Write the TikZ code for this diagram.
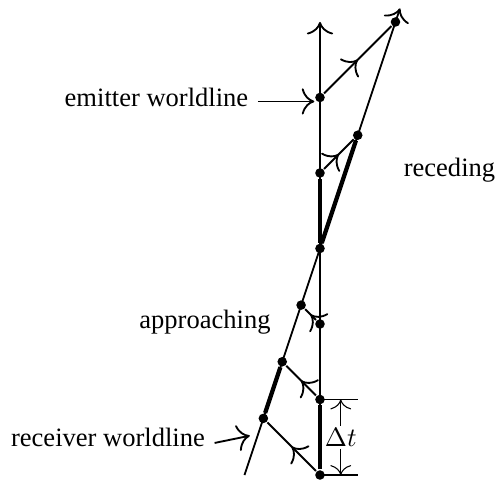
\documentclass[tikz,border=0pt]{standalone}
\usepackage[no-math]{fontspec}
\setmainfont{Liberation Serif}
\usetikzlibrary{arrows,arrows.meta,decorations.markings}
\tikzset{every picture/.style={
  >={To[scale=1.5]}             % Plain TeX style arrows, a bit larger.
  }
}

\begin{document}
\begin{tikzpicture}[
    line width=0.7pt,
    event/.style={              % Dots marking the events.
      circle,
      fill,
      inner sep=0pt,
      minimum size=3.6pt
    },
    ray/.style={                % Light signals, arrow half way along.
      postaction={decorate},
      decoration={markings,mark=at position 0.5 with {\arrow{>}}}
    },
    span/.style={               % Intervals between two signals.
      line width=1.6pt
    },
    lbl/.style={                % Styling of label text.
      text height=1.5ex
    }]

    \useasboundingbox (-4.238,-0.066) rectangle (2.331,6.291);

    % Events on the emitter worldline.
    \node[event] (e0) at (0,0) {};
    \node[event] (e1) at (0,1) {};
    \node[event] (e2) at (0,2) {};
    \node[event] (e3) at (0,3) {};
    \node[event] (e4) at (0,4) {};
    \node[event] (e5) at (0,5) {};

    % Events on the receiver worldline.
    \node[event] (r0) at (-0.75,0.75) {};
    \node[event] (r1) at (-0.5,1.5) {};
    \node[event] (r2) at (-0.25,2.25) {};
    \node[event] (r4) at (0.5,4.5) {};
    \node[event] (r5) at (1,6) {};

    % The two worldlines.
    \coordinate (etop) at (0,6);
    \coordinate (rbot) at (-1,0);
    \coordinate (rtop) at (1.06,6.18);
    \draw[->] (e0) -- (etop);
    \draw[->] (rbot) -- (rtop);

    % Intervals between successive signals.
    \draw[span] (e0) -- (e1);
    \draw[span] (r0) -- (r1);
    \draw[span] (e3) -- (e4);
    \draw[span] (e3) -- (r4);

    % Light signals from emitter to receiver.
    \draw[ray] (e0) -- (r0);
    \draw[ray] (e1) -- (r1);
    \draw[ray] (e2) -- (r2);
    \draw[ray] (e4) -- (r4);
    \draw[ray] (e5) -- (r5);

    % Label the worldlines.
    \node[lbl] (lemit) at (-2.166,5) {emitter worldline};
    \draw[->] ([yshift=-1.5pt]lemit.east) -- ([yshift=-1.5pt]e5.west);
    \node[lbl] (lrecv) at (-2.808,0.495) {receiver worldline};
    \coordinate (rtip) at (-0.93,0.52);
    \draw[->] ([yshift=-2pt]lrecv.east) -- (rtip);

    \node[lbl] (lappr) at (-1.523,2.03) {approaching};
    \node[lbl] (lrece) at (1.715,4.03) {receding};

    % Mark the interval between emissions.
    \coordinate (t0) at (0.5,0);
    \coordinate (t1) at (0.5,1);
    \draw[thin] (e0.center) -- (t0);
    \draw[thin] (e1.center) -- (t1);
    \coordinate (d0) at (0.275,0);
    \coordinate (d1) at (0.275,1);
    \draw[thin,<->] (d0) -- node[fill=white,inner sep=1pt] (dt) {$\Delta t$} (d1);
\end{tikzpicture}
\end{document}
